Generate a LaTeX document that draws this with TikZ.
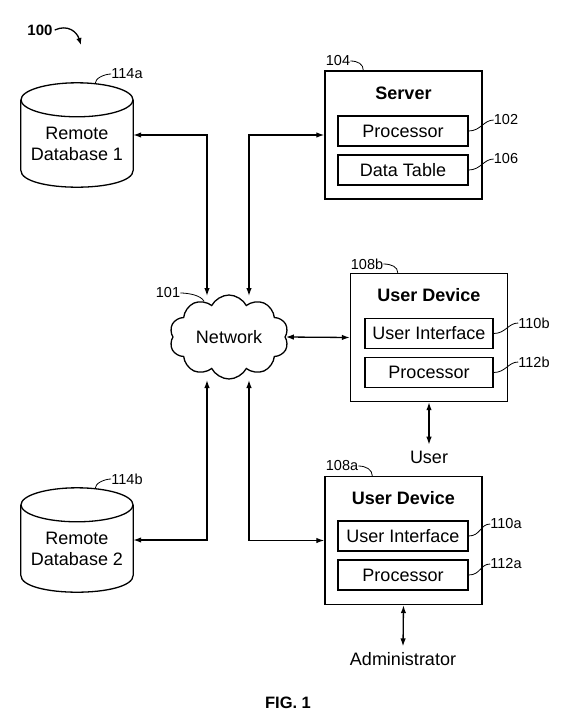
\documentclass[tikz,border=0pt]{standalone}
\usepackage{fontspec}
\setmainfont{Liberation Sans}
\usetikzlibrary{shapes.symbols,arrows.meta,calc}
\begin{document}
\begin{tikzpicture}[x=1bp,y=-1bp,
  txt/.style={font=\fontsize{18bp}{21bp}\selectfont, inner sep=0},
  ttl/.style={font=\fontsize{18bp}{21bp}\selectfont\bfseries, inner sep=0},
  lbl/.style={font=\fontsize{14.5bp}{17bp}\selectfont, inner sep=0},
  outerbox/.style={draw, line width=1.4bp, minimum width=157bp, minimum height=128bp, inner sep=0},
  innerbox/.style={draw, line width=1.3bp, minimum width=130bp, minimum height=30bp, inner sep=0, font=\fontsize{18bp}{21bp}\selectfont},
  dbase/.style={minimum width=112bp, minimum height=104bp, inner sep=0},
  dbline/.style={line width=1.3bp},
  bi/.style={line width=1.3bp, {Latex[length=8bp,width=5.5bp]}-{Latex[length=8bp,width=5.5bp]}},
  lead/.style={line width=0.8bp},
  endtxt/.style={font=\fontsize{18bp}{21bp}\selectfont, inner sep=0, outer sep=6bp}
]
\useasboundingbox (0,0) rectangle (568,725);

% figure number
\node[font=\fontsize{15bp}{18bp}\selectfont\bfseries, inner sep=0] (l100) at (40,30) {100};
\coordinate (c100) at (81,45);
\draw[line width=1.3bp, -{Latex[length=7bp,width=5.5bp]}] (l100.east) ++(2,0) .. controls (68,24) and (77,32) .. (c100);

% databases
\node[dbase] (db1) at (77,135) {};
\node[txt, align=center] (db1t) at (77,144) {Remote\\Database 1};
\draw[dbline] ($(db1.north)+(0,17)$) ellipse [x radius=56, y radius=17];
\draw[dbline] ($(db1.north west)+(0,17)$) -- ($(db1.south west)+(0,-17)$) .. controls +(0,22.67) and +(0,22.67) .. ($(db1.south east)+(0,-17)$) -- ($(db1.north east)+(0,17)$);

\node[dbase] (db2) at (77,540) {};
\node[txt, align=center] (db2t) at (77,549) {Remote\\Database 2};
\draw[dbline] ($(db2.north)+(0,17)$) ellipse [x radius=56, y radius=17];
\draw[dbline] ($(db2.north west)+(0,17)$) -- ($(db2.south west)+(0,-17)$) .. controls +(0,22.67) and +(0,22.67) .. ($(db2.south east)+(0,-17)$) -- ($(db2.north east)+(0,17)$);

% server
\node[outerbox] (srv) at (403.5,135) {};
\node[ttl] (srvt) at (403.5,93) {Server};
\node[innerbox] (pr1) at (403,131) {Processor};
\node[innerbox] (dt) at (403,170) {Data Table};

% user device b
\node[outerbox] (devb) at (429,337.5) {};
\node[ttl] (devbt) at (429,295) {User Device};
\node[innerbox, minimum width=128bp] (ui2) at (429,333.5) {User Interface};
\node[innerbox, minimum width=128bp] (pr2) at (429,372.5) {Processor};

% user device a
\node[outerbox] (deva) at (403.5,540.5) {};
\node[ttl] (devat) at (403.5,498) {User Device};
\node[innerbox] (ui1) at (403,536) {User Interface};
\node[innerbox] (pr3) at (403,575) {Processor};

% network
\node[cloud, draw, line width=1.3bp, cloud puffs=10, cloud puff arc=125, aspect=1.45,
      minimum width=119bp, minimum height=84bp, inner sep=0, txt] (net) at (229,337) {Network};

% end texts
\node[endtxt] (user) at (429,457) {User};
\node[endtxt] (admin) at (403,659) {Administrator};
\node[font=\fontsize{16.5bp}{19bp}\selectfont\bfseries, inner sep=0] (fig) at (288,703) {FIG. 1};

% network attachment points
\coordinate (nt1) at (207,296);
\coordinate (nt2) at (249,296);
\coordinate (nb1) at (207,380);
\coordinate (nb2) at (249,380);

% connectors
\draw[bi] (db1.east) -| (nt1);
\draw[bi] (nt2) |- (srv.west);
\draw[bi] (db2.east) -| (nb1);
\draw[bi] (nb2) |- (deva.west);
\draw[bi] (net.east) -- (devb.west);
\draw[bi] (devb.south) -- (user.north);
\draw[bi] (deva.south) -- (admin.north);

% reference labels
\node[lbl] (l114a) at (127,74) {114a};
\draw[lead] ($(db1.north)+(18,1)$) .. controls +(0,-6) and +(-6,0) .. (l114a.west);
\node[lbl] (l114b) at (127,479) {114b};
\draw[lead] ($(db2.north)+(18,1)$) .. controls +(0,-6) and +(-6,0) .. (l114b.west);
\node[lbl] (l104) at (338,61) {104};
\draw[lead] (l104.east) .. controls +(8,0) and +(0,-6) .. ($(srv.north west)+(39,0)$);
\node[lbl] (l102) at (506,120) {102};
\draw[lead] (pr1.east) .. controls +(12,0) and +(-10,0) .. (l102.west);
\node[lbl] (l106) at (506,159) {106};
\draw[lead] (dt.east) .. controls +(12,0) and +(-10,0) .. (l106.west);
\node[lbl] (l108b) at (367,264) {108b};
\draw[lead] (l108b.east) .. controls +(8,0) and +(0,-6) .. ($(devb.north west)+(48,0)$);
\node[lbl] (l110b) at (534,323) {110b};
\draw[lead] (ui2.east) .. controls +(12,0) and +(-10,0) .. (l110b.west);
\node[lbl] (l112b) at (534,362) {112b};
\draw[lead] (pr2.east) .. controls +(12,0) and +(-10,0) .. (l112b.west);
\node[lbl] (l108a) at (342,466) {108a};
\draw[lead] (l108a.east) .. controls +(8,0) and +(0,-6) .. ($(deva.north west)+(48,0)$);
\node[lbl] (l110a) at (506,524) {110a};
\draw[lead] (ui1.east) .. controls +(12,0) and +(-10,0) .. (l110a.west);
\node[lbl] (l112a) at (506,564) {112a};
\draw[lead] (pr3.east) .. controls +(12,0) and +(-10,0) .. (l112a.west);
\node[lbl] (l101) at (168,293) {101};
\draw[lead] (l101.east) .. controls +(8,0) and +(-3,-6) .. (net.125);
\end{tikzpicture}
\end{document}
